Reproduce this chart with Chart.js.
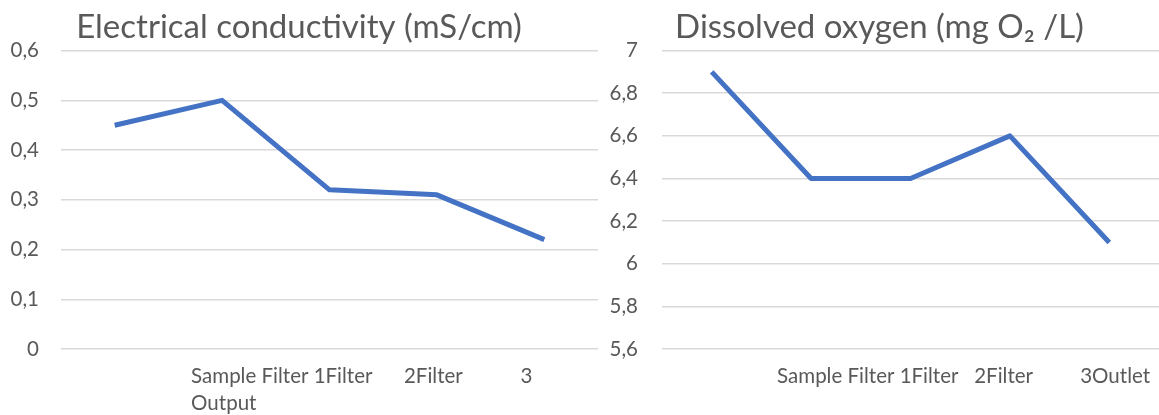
<!DOCTYPE html>
<html>
<head>
<meta charset="utf-8">
<script src="https://cdn.jsdelivr.net/npm/chart.js@4.4.0/dist/chart.umd.min.js"></script>
<style>
  html, body { margin: 0; padding: 0; background: #fff; overflow: hidden; }
  #ec { position: absolute; left: 0; top: 0; }
  #do { position: absolute; left: 600px; top: 0; }
</style>
</head>
<body>
<canvas id="ec" width="606" height="415"></canvas>
<canvas id="do" width="559" height="415"></canvas>
<script>
// conductivity along the treatment line
const ecCategories = ['', ['Sample Filter 1Filter      2Filter           3', 'Output'], '', '', ''];
const ecValues = [0.45, 0.5, 0.32, 0.31, 0.22];
const ecTicks = [0, 0.1, 0.2, 0.3, 0.4, 0.5, 0.6];

// dissolved oxygen along the treatment line
const doCategories = ['', 'Sample Filter 1Filter   2Filter         3Outlet', '', '', ''];
const doValues = [6.9, 6.4, 6.4, 6.6, 6.1];
const doTicks = [5.6, 5.8, 6, 6.2, 6.4, 6.6, 6.8, 7];

const FONT = 'Lato, "Open Sans", sans-serif';
const GREY = '#595959';

function comma(v) {
  return String(Math.round(v * 10) / 10).replace('.', ',');
}

function makeChart(id, title, labels, values, ticks, opts) {
  return new Chart(document.getElementById(id), {
    type: 'line',
    data: {
      labels: labels,
      datasets: [{
        data: values,
        borderColor: '#4472C4',
        borderWidth: 5,
        borderCapStyle: 'butt',
        borderJoinStyle: 'round',
        pointRadius: 0,
        tension: 0,
        fill: false
      }]
    },
    options: {
      responsive: false,
      animation: false,
      layout: { padding: { left: 0, right: opts.padRight, top: 0, bottom: 0 } },
      plugins: {
        legend: { display: false },
        tooltip: { enabled: false },
        title: {
          display: true,
          text: title,
          color: GREY,
          font: { family: FONT, size: 33, weight: 'normal' },
          padding: { top: 8, bottom: 3 }
        }
      },
      scales: {
        x: {
          offset: true,
          grid: { display: false },
          border: { display: false },
          ticks: {
            color: GREY,
            font: { family: FONT, size: 20.5, lineHeight: 1.32 },
            autoSkip: false,
            maxRotation: 0,
            minRotation: 0,
            align: 'start',
            labelOffset: opts.labelOffset,
            padding: 6
          },
          afterFit: s => { s.height = 66; }
        },
        y: {
          min: ticks[0],
          max: ticks[ticks.length - 1],
          grid: { color: '#d9d9d9', lineWidth: 1.5, drawTicks: false },
          border: { display: false },
          ticks: {
            color: GREY,
            font: { family: FONT, size: 20.5 },
            padding: opts.tickPad,
            callback: v => comma(v)
          },
          afterBuildTicks: s => { s.ticks = ticks.map(v => ({ value: v })); },
          afterFit: s => { s.width = opts.axisWidth; }
        }
      }
    }
  });
}

// U+200C keeps the renderer from fusing "t" and "i" into a ligature
makeChart('ec', 'Electrical conduc\u200Ctivity (mS/cm)', ecCategories, ecValues, ecTicks,
  { padRight: 8, labelOffset: -31, tickPad: 22, axisWidth: 61 });
makeChart('do', 'Dissolved oxygen (mg O\u2082 /L)', doCategories, doValues, doTicks,
  { padRight: 0, labelOffset: -34, tickPad: 24, axisWidth: 62 });
</script>
</body>
</html>
